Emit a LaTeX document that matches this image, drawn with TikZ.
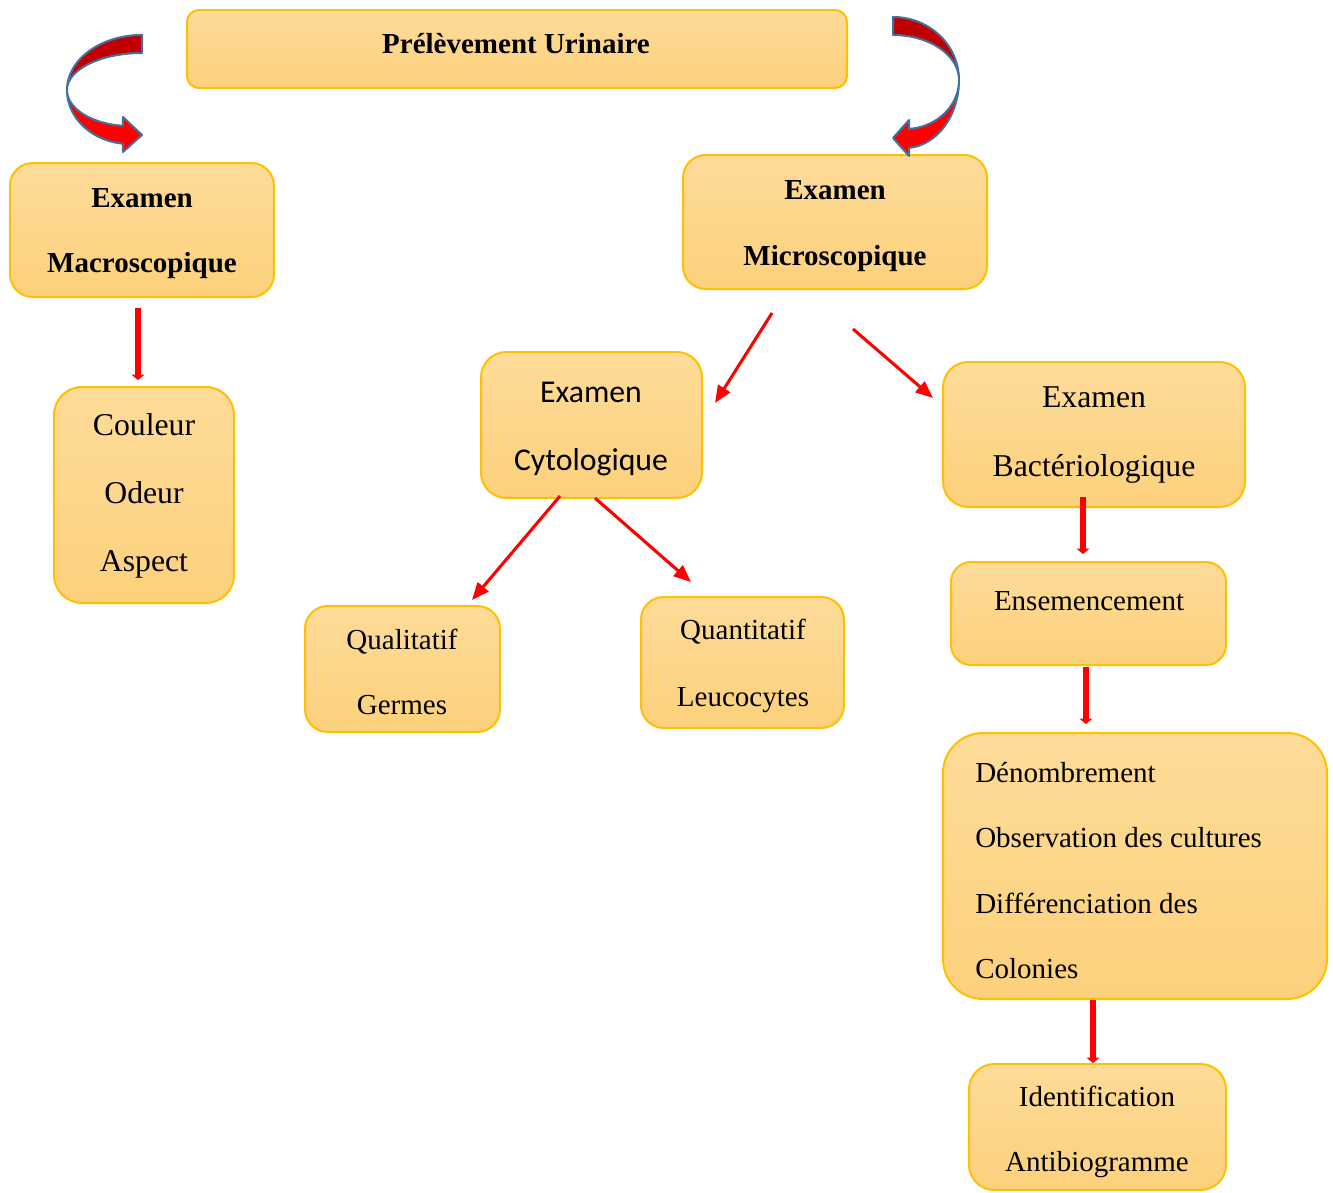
\documentclass[tikz,border=0pt]{standalone}
\usepackage{fontspec}
\setmainfont{Liberation Serif}
\newfontfamily\califont{Carlito}
\usetikzlibrary{arrows.meta,calc}
\definecolor{boxtop}{RGB}{254,219,153}
\definecolor{boxbot}{RGB}{252,209,124}
\definecolor{boxline}{RGB}{255,192,0}
\definecolor{darkred}{RGB}{192,0,0}
\definecolor{ribbonline}{RGB}{65,113,156}
\newcommand{\tfont}{\fontsize{21.75pt}{26pt}\selectfont}
\newcommand{\bigfont}{\fontsize{23.8pt}{28pt}\selectfont}
\newcommand{\cfont}{\califont\fontsize{23.8pt}{28pt}\selectfont}
\tikzset{
  box/.style={draw=boxline, line width=1.5pt, top color=boxtop, bottom color=boxbot, inner sep=0pt, rounded corners=17pt},
  txt/.style={anchor=base, inner sep=0pt, font=\tfont},
  bigtxt/.style={anchor=base, inner sep=0pt, font=\bigfont},
  btxt/.style={anchor=base, inner sep=0pt, font=\tfont\bfseries},
  ctxt/.style={anchor=base, inner sep=0pt, font=\cfont},
  ltxt/.style={anchor=base west, inner sep=0pt, font=\tfont},
  thinarrow/.style={draw=red, line width=2.3pt, -{Triangle[length=13pt,width=10.5pt]}},
  thickarrow/.style={draw=red, line width=5pt, -{Triangle[length=4pt,width=9.5pt]}},
  ribbondark/.style={fill=darkred, draw=ribbonline, line width=1.5pt, line join=round},
  ribbonred/.style={fill=red, draw=ribbonline, line width=1.5pt, line join=round}
}
\begin{document}
\begin{tikzpicture}[x=0.75pt,y=-0.75pt]
\useasboundingbox (0,0) rectangle (1333,1192);
% boxes
\node[box, rounded corners=9pt, minimum width=495pt, minimum height=58.5pt] (pre) at (517,49) {};
\node[box, minimum width=198pt, minimum height=100.5pt] (macro) at (142,230) {};
\node[box, minimum width=228pt, minimum height=100.5pt] (micro) at (835,222) {};
\node[box, rounded corners=21pt, minimum width=135pt, minimum height=162pt] (couleur) at (144,495) {};
\node[box, rounded corners=19pt, minimum width=165.75pt, minimum height=109.5pt] (cyto) at (591.5,425) {};
\node[box, rounded corners=19pt, minimum width=226.5pt, minimum height=108.75pt] (bact) at (1094,434.5) {};
\node[box, minimum width=146.25pt, minimum height=94.5pt] (qual) at (402.5,669) {};
\node[box, minimum width=152.25pt, minimum height=98.25pt] (quant) at (742.5,662.5) {};
\node[box, rounded corners=15pt, minimum width=206.25pt, minimum height=77.25pt] (ens) at (1088.5,613.5) {};
\node[box, rounded corners=30pt, minimum width=288pt, minimum height=199.5pt] (denom) at (1135,866) {};
\node[box, rounded corners=19pt, minimum width=192.75pt, minimum height=94.5pt] (ident) at (1097.5,1127) {};
% texts
\node[btxt] (t1) at (516,53) {Prélèvement Urinaire};
\node[btxt] (t2) at (142,207) {Examen};
\node[btxt] (t3) at (142,272) {Macroscopique};
\node[btxt] (t4) at (835,199) {Examen};
\node[btxt] (t5) at (835,265) {Microscopique};
\node[bigtxt] (t6) at (144,435) {Couleur};
\node[bigtxt] (t7) at (144,503) {Odeur};
\node[bigtxt] (t8) at (144,571) {Aspect};
\node[ctxt] (t9) at (591,402) {Examen};
\node[ctxt] (t10) at (591,470) {Cytologique};
\node[bigtxt] (t11) at (1094,407) {Examen};
\node[bigtxt] (t12) at (1094,476) {Bactériologique};
\node[txt] (t13) at (402,649) {Qualitatif};
\node[txt] (t14) at (402,714) {Germes};
\node[txt] (t15) at (743,639) {Quantitatif};
\node[txt] (t16) at (743,706) {Leucocytes};
\node[txt] (t17) at (1089,610) {Ensemencement};
\node[ltxt] (t18) at (975,782) {Dénombrement};
\node[ltxt] (t19) at (975,847) {Observation des cultures};
\node[ltxt] (t20) at (975,913) {Différenciation des};
\node[ltxt] (t21) at (975,978) {Colonies};
\node[txt] (t22) at (1097,1106) {Identification};
\node[txt] (t23) at (1097,1171) {Antibiogramme};
% straight connectors
\draw[thickarrow] ($(macro.south)+(-4,10)$) -- ($(couleur.north)+(-6,-6)$);
\draw[thinarrow] ($(micro.south)+(-63,23)$) -- ($(cyto.east)+(12,-22)$);
\draw[thinarrow] ($(micro.south)+(18,39)$) -- ($(bact.west)+(-9,-36.5)$);
\draw[thinarrow] ($(cyto.south)+(-31.5,-3)$) -- ($(qual.north)+(69.5,-5)$);
\draw[thinarrow] ($(cyto.south)+(3.5,-1)$) -- ($(quant.north)+(-51.5,-14)$);
\draw[thickarrow] ($(bact.south)+(-11,-11)$) -- ($(ens.north)+(-5.5,-7)$);
\draw[thickarrow] ($(ens.south)+(-2.5,1)$) -- ($(denom.north)+(-49,-8)$);
\draw[thickarrow] ($(denom.south)+(-42,0)$) -- ($(ident.north)+(-4.5,0)$);
% curved ribbon arrows (left)
\filldraw[ribbondark] plot[domain=270:180,samples=40] ({142+75*cos(\x)},{90+55*sin(\x)})
  -- plot[domain=180:270,samples=40] ({142+75*cos(\x)},{90+37*sin(\x)}) -- cycle;
\filldraw[ribbonred] plot[domain=180:96.4,samples=40] ({130+63*cos(\x)},{90+54*sin(\x)})
  -- (123,152) -- (142,135) -- (123,117)
  -- plot[domain=96.4:180,samples=40] ({130+63*cos(\x)},{90+36*sin(\x)}) -- cycle;
% curved ribbon arrows (right)
\filldraw[ribbondark] plot[domain=270:360,samples=40] ({893+66*cos(\x)},{80+63*sin(\x)})
  -- plot[domain=360:270,samples=40] ({893+66*cos(\x)},{80+45*sin(\x)}) -- cycle;
\filldraw[ribbonred] plot[domain=0:85.75,samples=40] ({905+54*cos(\x)},{80+68*sin(\x)})
  -- (909,156) -- (893,138) -- (909,120)
  -- plot[domain=85.75:0,samples=40] ({905+54*cos(\x)},{80+49*sin(\x)}) -- cycle;
\end{tikzpicture}
\end{document}
